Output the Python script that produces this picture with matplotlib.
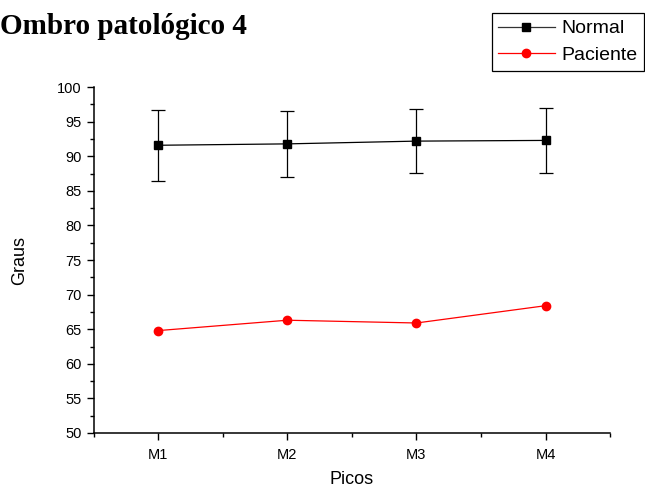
import matplotlib.pyplot as plt
from matplotlib.lines import Line2D
from matplotlib.ticker import MultipleLocator

picos = ['M1', 'M2', 'M3', 'M4']
normal = [91.6, 91.8, 92.2, 92.3]
normal_err = [5.15, 4.8, 4.6, 4.7]
paciente = [64.8, 66.3, 65.9, 68.4]

plt.rcParams['font.family'] = ['Liberation Sans', 'DejaVu Sans']

fig = plt.figure(figsize=(6.45, 4.87), dpi=100)
ax = fig.add_axes([0.145, 0.111, 0.801, 0.71])

x = list(range(1, len(picos) + 1))
ax.errorbar(x, normal, yerr=normal_err, color='black', marker='s', markersize=6,
            linewidth=0.9, elinewidth=0.9, capsize=5, capthick=0.9)
ax.plot(x, paciente, color='red', marker='o', markersize=6, linewidth=0.9)

ax.set_xlim(0.5, 4.5)
ax.set_ylim(50, 100)
ax.set_xticks(x)
ax.set_xticklabels(picos)
ax.xaxis.set_minor_locator(MultipleLocator(0.5))
ax.yaxis.set_major_locator(MultipleLocator(5))
ax.yaxis.set_minor_locator(MultipleLocator(2.5))
ax.tick_params(which='both', direction='out', labelsize=10.5, width=1)
ax.tick_params(which='major', length=5)
ax.tick_params(which='minor', length=3)
ax.tick_params(axis='x', pad=6)
for s in ['top', 'right']:
    ax.spines[s].set_visible(False)
for s in ['left', 'bottom']:
    ax.spines[s].set_linewidth(1.1)

ax.set_xlabel('Picos', fontsize=13, labelpad=6)
ax.set_ylabel('Graus', fontsize=13, labelpad=21)

fig.text(0.0, 0.945, 'Ombro patológico 4', fontsize=21, fontweight='bold',
         family='Liberation Serif', ha='left', va='center')

handles = [
    Line2D([], [], color='#333333', marker='s', markersize=6, markerfacecolor='black',
           markeredgecolor='black', linewidth=0.9),
    Line2D([], [], color='red', marker='o', markersize=6, linewidth=0.9),
]
leg = fig.legend(handles, ['Normal', 'Paciente'], loc='upper right',
                 bbox_to_anchor=(0.999, 0.973), fontsize=14,
                 frameon=True, fancybox=False, edgecolor='black', handlelength=2.9,
                 borderpad=0.34, labelspacing=0.47, handletextpad=0.36,
                 borderaxespad=0, framealpha=1)
leg.get_frame().set_linewidth(0.9)

fig.savefig('out.png', dpi=100)
